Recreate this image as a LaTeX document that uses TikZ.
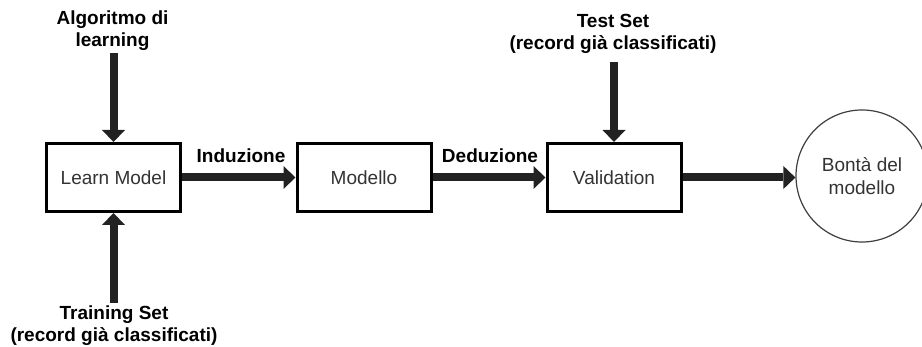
\documentclass[tikz,border=0pt]{standalone}
\usepackage{fontspec}
\setmainfont{Liberation Sans}
\usetikzlibrary{arrows.meta}
\definecolor{boxtext}{HTML}{333333}
\definecolor{arrowgray}{HTML}{222222}
\definecolor{circgray}{HTML}{404040}
\begin{document}
\begin{tikzpicture}[x=1pt,y=-1pt,
  stage/.style={draw=black, line width=3pt, fill=white, minimum width=134pt,
    minimum height=68pt, inner sep=0pt, text=boxtext,
    font=\fontsize{19}{23}\selectfont},
  goal/.style={draw=circgray, line width=1.2pt, circle, minimum size=132pt,
    inner sep=0pt, align=center, text=boxtext,
    font=\fontsize{19}{23}\selectfont},
  flow/.style={line width=8pt, draw=arrowgray,
    -{Triangle[length=12pt,width=23pt,line width=0pt]}},
  lbl/.style={font=\bfseries\fontsize{19}{22.5}\selectfont, align=center,
    text=black, inner sep=0pt},
]
\useasboundingbox[fill=white] (0,0) rectangle (922,347);

% process stages
\node[stage] (learn) at (113.5,177.5) {Learn Model};
\node[stage] (model) at (364,177.5) {Modello};
\node[stage] (valid) at (614,177.5) {Validation};
\node[goal] (good) at (862,176) {Bontà del\\modello};

% inputs
\node[lbl, anchor=base] (algo) at (112.5,47) {Algoritmo di\\learning};
\node[lbl, anchor=base] (train) at (114,342) {Training Set\\(record già classificati)};
\node[lbl, anchor=base] (test) at (613,50) {Test Set\\(record già classificati)};
\coordinate (algoend) at (113.5,53);
\coordinate (trainend) at (113.5,303);
\coordinate (testend) at (614,62);

% edge labels
\node[lbl, anchor=base] (ind) at (241,163) {Induzione};
\node[lbl, anchor=base] (ded) at (490,163) {Deduzione};

% arrows
\draw[flow] (algoend) -- (learn.north);
\draw[flow] (trainend) -- (learn.south);
\draw[flow] (learn.east) -- (model.west);
\draw[flow] (model.east) -- (valid.west);
\draw[flow] (testend) -- (valid.north);
\draw[flow] (valid.east) -- (valid.east -| good.west);
\end{tikzpicture}
\end{document}
